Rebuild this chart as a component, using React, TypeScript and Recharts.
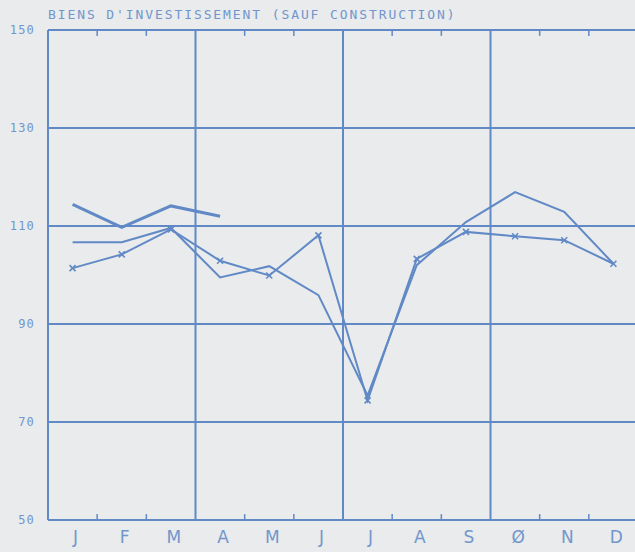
import { LineChart, Line, XAxis, YAxis, CartesianGrid, ReferenceLine } from 'recharts';

// Monthly index, base 100
const months = ['J', 'F', 'M', 'A', 'M', 'J', 'J', 'A', 'S', 'Ø', 'N', 'D'];
const priorYear = [114.4, 109.7, 114.1, 112.0, null, null, null, null, null, null, null, null];
const lastYear = [106.7, 106.7, 109.6, 99.5, 101.8, 95.9, 75.4, 102.0, 110.8, 116.9, 112.9, 102.3];
const currentYear = [101.4, 104.2, 109.3, 102.9, 99.9, 108.1, 74.4, 103.3, 108.8, 107.9, 107.1, 102.3];
const yTicks = [50, 70, 90, 110, 130, 150];
const quarterBreaks = [3, 6, 9];
const monthBreaks = [1, 2, 4, 5, 7, 8, 10, 11];

const Y_MIN = 50;
const Y_MAX = 150;
const TICK_LEN = 1.2; // in index units, roughly 6px

const data = months.map((m, i) => ({
  x: i + 0.5,
  label: m,
  a: priorYear[i],
  b: lastYear[i],
  c: currentYear[i],
}));

const BLUE = '#6189c6';
const TEXT = '#7296cc';

const Cross = (props: any) => {
  const { cx, cy } = props;
  if (cx == null || cy == null) return null;
  return (
    <g stroke={BLUE} strokeWidth={1.6}>
      <line x1={cx - 3} y1={cy - 3} x2={cx + 3} y2={cy + 3} />
      <line x1={cx - 3} y1={cy + 3} x2={cx + 3} y2={cy - 3} />
    </g>
  );
};

const App = () => {
  return (
    <div style={{ position: 'absolute', left: 0, top: 0, width: 635, height: 552, overflow: 'hidden', background: '#e9ebec' }}>
      <svg width={635} height={30} style={{ position: 'absolute', left: 0, top: 0 }}>
        <text x={48} y={19} fill={TEXT} fontSize={13} fontFamily="DejaVu Sans Mono" letterSpacing={1.9}>
          BIENS D'INVESTISSEMENT (SAUF CONSTRUCTION)
        </text>
      </svg>
      <LineChart width={638} height={552} data={data} margin={{ top: 30, right: 0, left: 0, bottom: 0 }}>
        <CartesianGrid vertical={false} stroke={BLUE} strokeWidth={2} />
        <XAxis
          dataKey="x"
          type="number"
          domain={[0, 12]}
          ticks={data.map((d) => d.x)}
          tickFormatter={(v: number) => months[Math.floor(v)]}
          height={32}
          tickLine={false}
          tickSize={0}
          tickMargin={11}
          axisLine={{ stroke: BLUE, strokeWidth: 2 }}
          tick={{ fill: TEXT, fontSize: 17, fontFamily: 'DejaVu Sans', dx: 3 }}
          interval={0}
        />
        <YAxis
          type="number"
          domain={[Y_MIN, Y_MAX]}
          ticks={yTicks}
          width={48}
          tickLine={false}
          tickSize={0}
          tickMargin={13}
          axisLine={{ stroke: BLUE, strokeWidth: 2 }}
          tick={{ fill: TEXT, fontSize: 12, fontFamily: 'DejaVu Sans Mono', letterSpacing: 1.2 }}
        />
        {quarterBreaks.map((q) => (
          <ReferenceLine key={q} x={q} stroke={BLUE} strokeWidth={2} />
        ))}
        {monthBreaks.map((m) => (
          <ReferenceLine
            key={'b' + m}
            segment={[{ x: m, y: Y_MIN }, { x: m, y: Y_MIN + TICK_LEN }]}
            stroke={BLUE}
            strokeWidth={1.5}
          />
        ))}
        {monthBreaks.map((m) => (
          <ReferenceLine
            key={'t' + m}
            segment={[{ x: m, y: Y_MAX }, { x: m, y: Y_MAX - TICK_LEN }]}
            stroke={BLUE}
            strokeWidth={1.5}
          />
        ))}
        <Line dataKey="a" stroke={BLUE} strokeWidth={3} dot={false} isAnimationActive={false} connectNulls={false} />
        <Line dataKey="b" stroke={BLUE} strokeWidth={2} dot={false} isAnimationActive={false} />
        <Line dataKey="c" stroke={BLUE} strokeWidth={2} dot={<Cross />} isAnimationActive={false} />
      </LineChart>
    </div>
  );
};

export default App;
